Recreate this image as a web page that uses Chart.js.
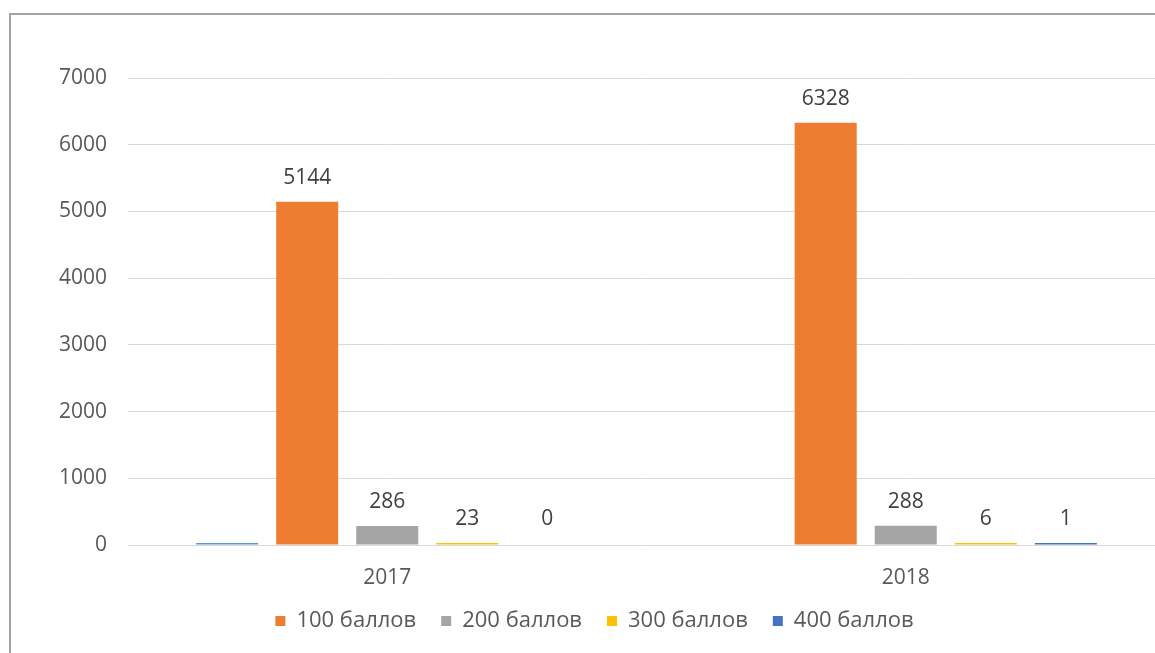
<!DOCTYPE html>
<html>
<head>
<meta charset="utf-8">
<script src="https://cdn.jsdelivr.net/npm/chart.js@4.4.1/dist/chart.umd.min.js"></script>
<style>
  html, body { margin: 0; padding: 0; width: 1155px; height: 653px; overflow: hidden; background: #ffffff; }
  #frame { position: absolute; left: 9px; top: 13px; width: 2000px; height: 2000px;
           border-top: 2px solid #a3a3a3; border-left: 2px solid #a3a3a3; }
  #wrap { position: absolute; left: 0; top: 0; width: 1175px; height: 653px; }
</style>
</head>
<body>
<div id="frame"></div>
<div id="wrap"><canvas id="c" width="1175" height="653"></canvas></div>
<script>
// ---- data ----
const categories = ['2017', '2018'];
const seriesNames = ['', '100 баллов', '200 баллов', '300 баллов', '400 баллов'];
const seriesBlank = [20, null];          // unnamed light-blue series (no legend, no label)
const series100 = [5144, 6328];
const series200 = [286, 288];
const series300 = [23, 6];
const series400 = [0, 1];
const yTicks = [0, 1000, 2000, 3000, 4000, 5000, 6000, 7000];

const colors = ['#5B9BD5', '#ED7D31', '#A5A5A5', '#FFC000', '#4472C4'];
const seriesValues = [seriesBlank, series100, series200, series300, series400];

const FONT = '"Open Sans", "Noto Sans", sans-serif';

const valueLabels = {
  id: 'valueLabels',
  afterDatasetsDraw(chart) {
    const ctx = chart.ctx;
    ctx.save();
    ctx.font = '21px ' + FONT;
    ctx.fillStyle = '#404040';
    ctx.textAlign = 'center';
    ctx.textBaseline = 'middle';
    chart.data.datasets.forEach((ds, di) => {
      if (!ds.showValue) return;
      const meta = chart.getDatasetMeta(di);
      meta.data.forEach((bar, i) => {
        const v = ds.data[i];
        if (v === null || v === undefined) return;
        const top = Math.min(bar.y, bar.base);
        ctx.fillText(String(v), bar.x, top - 24);
      });
    });
    ctx.restore();
  }
};

new Chart(document.getElementById('c'), {
  type: 'bar',
  data: {
    labels: categories,
    datasets: seriesValues.map((vals, i) => ({
      label: seriesNames[i],
      data: vals,
      backgroundColor: (c) => (c.raw === 0 ? 'rgba(0,0,0,0)' : colors[i]),
      borderWidth: 0,
      minBarLength: (i === 0 || i >= 3) ? 2 : 0,
      categoryPercentage: 0.772,
      barPercentage: 0.775,
      showValue: i > 0
    }))
  },
  options: {
    responsive: false,
    animation: false,
    layout: { padding: { left: 24, right: 10, top: 78, bottom: 11 } },
    plugins: {
      tooltip: { enabled: false },
      legend: {
        position: 'bottom',
        labels: {
          filter: (item) => item.datasetIndex > 0,
          generateLabels: (chart) => chart.data.datasets.map((ds, i) => ({
            text: ds.label,
            fillStyle: colors[i],
            strokeStyle: colors[i],
            lineWidth: 0,
            hidden: false,
            datasetIndex: i,
            fontColor: '#595959'
          })),
          boxWidth: 10,
          boxHeight: 10,
          padding: 25,
          color: '#595959',
          font: { family: FONT, size: 22 }
        }
      }
    },
    scales: {
      x: {
        grid: { display: false },
        border: { display: false },
        afterFit: (scale) => { scale.height = 40; },
        ticks: { color: '#595959', font: { family: FONT, size: 21 }, padding: 12 }
      },
      y: {
        min: 0,
        max: yTicks[yTicks.length - 1],
        afterBuildTicks: (scale) => { scale.ticks = yTicks.map(v => ({ value: v })); },
        afterFit: (scale) => { scale.width = 104; },
        grid: { color: '#d9d9d9', lineWidth: 1, drawTicks: false },
        border: { display: false },
        ticks: { color: '#595959', font: { family: FONT, size: 21 }, padding: 21,
                 callback: (v) => String(v) }
      }
    }
  },
  plugins: [valueLabels]
});
</script>
</body>
</html>
